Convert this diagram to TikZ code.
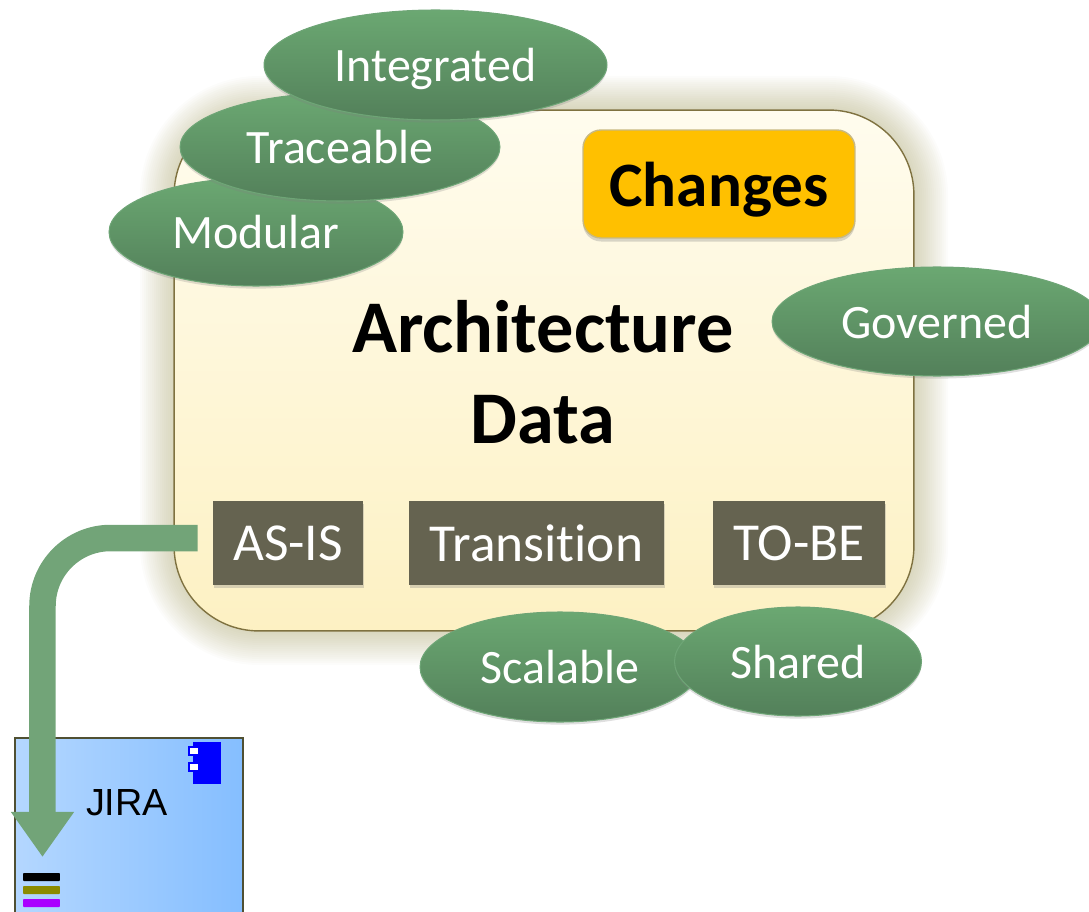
\documentclass[tikz,border=0pt]{standalone}
\usepackage{fontspec}
\setmainfont[Ligatures=NoCommon]{Carlito}
\newfontfamily\jirafont{Liberation Sans}
\usepackage{tikz}
\usetikzlibrary{arrows.meta,shapes.geometric,shadows,positioning}
\definecolor{panelline}{HTML}{7F7240}
\definecolor{paneltop}{HTML}{FFFCEE}
\definecolor{panelbottom}{HTML}{FDF1C3}
\definecolor{glowcol}{HTML}{8F8840}
\definecolor{arrowgreen}{HTML}{72A478}
\definecolor{qualitytop}{HTML}{6BA872}
\definecolor{qualitybottom}{HTML}{53805A}
\definecolor{qualityline}{HTML}{6EA576}
\definecolor{phasefill}{HTML}{656350}
\definecolor{changesfill}{HTML}{FFC000}
\definecolor{changesline}{HTML}{C8B982}
\definecolor{jiraleft}{HTML}{B4D7FF}
\definecolor{jiraright}{HTML}{85BEFF}
\definecolor{jiraline}{HTML}{505032}
\definecolor{stripeolivecol}{HTML}{8B8B00}
\definecolor{stripepurplecol}{HTML}{AA00FF}
\tikzset{
	quality/.style={ellipse,inner sep=0pt,text=white,text depth=0pt,font=\fontsize{27.3}{32}\selectfont,top color=qualitytop,bottom color=qualitybottom,draw=qualityline,line width=0.6pt,drop shadow={shadow xshift=0pt,shadow yshift=-1.5pt,opacity=0.25}},
	phasebox/.style={rectangle,inner sep=0pt,fill=phasefill,text=white,font=\fontsize{30.4}{36}\selectfont,minimum height=1.68cm,drop shadow={shadow xshift=0.5pt,shadow yshift=-1.5pt,opacity=0.3}},
	stripe/.style={rectangle,inner sep=0pt,minimum width=0.74cm,minimum height=0.16cm,rounded corners=0.5pt}
}
\begin{document}
\begin{tikzpicture}[x=0.02cm,y=-0.02cm]
	\clip (0,0) rectangle (1089,912);

	% glow round the panel
	\foreach \g in {2,4,...,34}
		\fill[glowcol,opacity=0.023,rounded corners=1.7cm+\g*0.02cm] (174-\g,110-\g) rectangle (914+\g,631+\g);

	\node[rectangle,rounded corners=1.7cm,minimum width=14.8cm,minimum height=10.42cm,top color=paneltop,bottom color=panelbottom,draw=panelline,line width=0.8pt] (panel) at (544,370.5) {};

	\node[align=center,font=\fontsize{42.3}{51.6}\selectfont\bfseries] (title) at (543,372) {Architecture\\Data};

	\node[rectangle,rounded corners=0.36cm,minimum width=5.44cm,minimum height=2.16cm,text depth=0pt,fill=changesfill,draw=changesline,line width=0.8pt,font=\fontsize{36}{42}\selectfont\bfseries,drop shadow={shadow xshift=0pt,shadow yshift=-2pt,opacity=0.3}] (changes) at (719,184) {Changes};

	\node[phasebox,minimum width=3cm] (asis) at (288,543) {AS-IS};
	\node[phasebox,minimum width=5.1cm] (transition) at (536.5,543) {Transition};
	\node[phasebox,minimum width=3.44cm] (tobe) at (799,543) {TO-BE};

	% JIRA box runs off the page
	\node[anchor=north west,rectangle,inner sep=0pt,minimum width=4.56cm,minimum height=4.4cm,left color=jiraleft,right color=jiraright,draw=jiraline,line width=1pt] (jira) at (14,737) {};
	\node[font=\jirafont\fontsize{21.5}{26}\selectfont] (jiralabel) at (127,803) {JIRA};

	% component icon
	\node[rectangle,inner sep=0pt,minimum width=0.56cm,minimum height=0.84cm,fill=blue] (icon) at (207,763) {};
	\node[rectangle,inner sep=0pt,minimum width=0.2cm,minimum height=0.16cm,fill=white,draw=blue,line width=1pt] (tabtop) at (194,751) {};
	\node[rectangle,inner sep=0pt,minimum width=0.2cm,minimum height=0.16cm,fill=white,draw=blue,line width=1pt] (tabbottom) at (194,767) {};

	\node[stripe,fill=black] (stripeblack) at (41.5,877) {};
	\node[stripe,fill=stripeolivecol] (stripeolive) at (41.5,890) {};
	\node[stripe,fill=stripepurplecol] (stripepurple) at (41.5,903) {};

	\coordinate (asisout) at ([xshift=-0.3cm,yshift=0.1cm]asis.west);
	\coordinate (jiraend) at ([xshift=0.57cm,yshift=-2.4cm]jira.north west);
	\draw[arrowgreen,line width=0.53cm,rounded corners=1.36cm,arrows={-{Triangle[length=0.9cm,width=1.2cm]}}] (asisout) -| (jiraend);

	\node[quality,minimum width=5.88cm,minimum height=2.16cm] (modular) at (256,232) {Modular};
	\node[quality,minimum width=6.4cm,minimum height=2.16cm] (traceable) at (340,147) {Traceable};
	\node[quality,minimum width=6.86cm,minimum height=2.2cm] (integrated) at (435.5,65) {Integrated};
	\node[quality,minimum width=6.6cm,minimum height=2.18cm] (governed) at (937,321.5) {Governed};
	\node[quality,minimum width=5.6cm,minimum height=2.2cm] (scalable) at (560,667) {Scalable};
	\node[quality,minimum width=4.94cm,minimum height=2.18cm] (shared) at (798,661.5) {Shared};
\end{tikzpicture}
\end{document}
